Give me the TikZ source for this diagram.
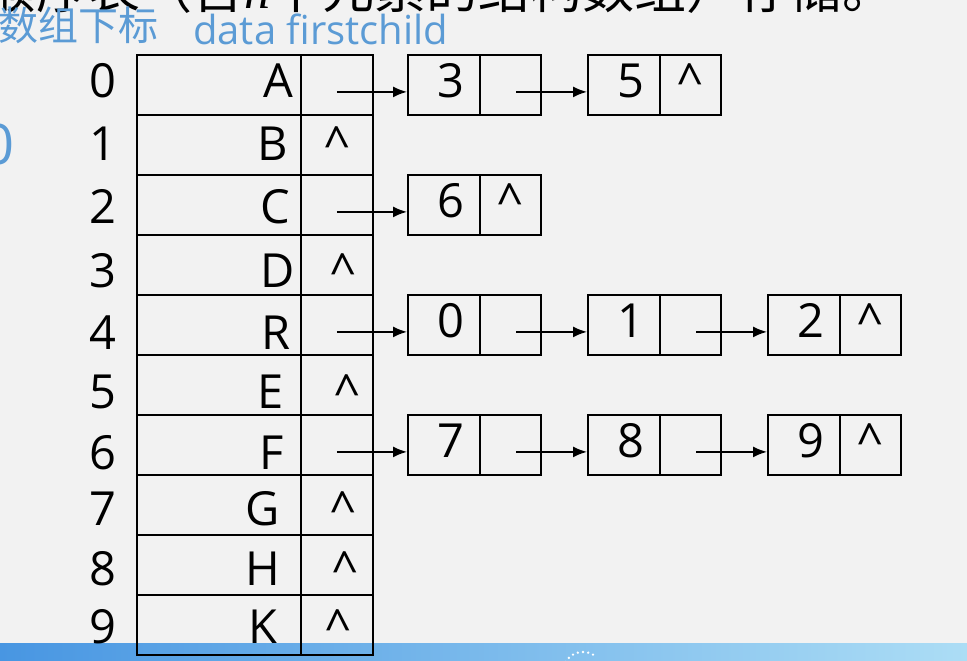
\documentclass[tikz,border=0pt]{standalone}
\usepackage{fontspec}
\setmainfont{Open Sans}
\newfontfamily\cjk{Noto Sans CJK SC}
\newfontfamily\timesit{Liberation Serif}
\usetikzlibrary{arrows.meta}
\definecolor{slidebg}{RGB}{242,242,242}
\definecolor{headblue}{RGB}{91,155,213}
\definecolor{barleft}{RGB}{72,150,226}
\definecolor{barright}{RGB}{172,221,245}

\begin{document}
\begin{tikzpicture}[x=1pt,y=-1pt,
  cell/.style={draw,line width=1.8pt,minimum height=60pt,inner sep=0pt,anchor=north west},
  txt/.style={inner sep=0pt,font=\fontsize{47}{50}\selectfont},
  head/.style={inner sep=0pt,anchor=base west,text=headblue},
  link/.style={line width=1.7pt,-{Latex[length=14pt,width=11pt]}}]
\useasboundingbox (0,0) rectangle (967,661);
\fill[slidebg] (0,0) rectangle (967,661);
\clip (0,0) rectangle (967,661);
% caption line, cut by the top edge
\node[inner sep=0pt,anchor=base west,font=\cjk\fontsize{52}{56}\selectfont] (caption) at (-16,9)
  {顺序表（含{\timesit\itshape n}个元素的结构数组）存储。};
% column heads
\node[head,font=\cjk\fontsize{40}{42}\selectfont] (idxhead) at (-2,41) {数组下标};
\node[head,font=\fontsize{40}{42}\selectfont] (fieldhead) at (193,45) {data firstchild};
\node[head,anchor=base east,font=\fontsize{56}{60}\selectfont] (edge0) at (15,164) {0};
% status bar
\shade[left color=barleft,right color=barright] (0,643) rectangle (967,661);
\foreach \a in {-60,-75,...,-150}
  \fill[white] (583,672) ++(\a:20) circle (1.3pt);

% head table
\foreach \i/\t/\rx/\by in {0/A/293/98,1/B/288/160,2/C/290/223,3/D/295/287,4/R/291/349,
                           5/E/284/408,6/F/284/469,7/G/280/525,8/H/280/585,9/K/278/643}{
  \node[cell,minimum width=164pt] (d\i) at (136,54+60*\i) {};
  \node[cell,minimum width=72pt] (p\i) at (300,54+60*\i) {};
  \node[txt,anchor=base] (n\i) at (103,\by) {\i};
  \node[txt,anchor=base east] (t\i) at (\rx,\by) {\t};
}
\foreach \i/\cx in {1/337,3/343,5/347,7/343,8/345,9/338}
  \node[txt,anchor=base] (nil\i) at (t\i.base -| \cx,0) {\textasciicircum};

% child lists
\foreach \v/\x/\y in {3/407/54,5/587/54,6/407/174,0/407/294,1/587/294,2/767/294,
                      7/407/414,8/587/414,9/767/414}{
  \node[cell,minimum width=72pt] (cv\v) at (\x,\y) {};
  \node[cell,minimum width=61pt] (cp\v) at (\x+72,\y) {};
  \node[txt,anchor=base] (val\v) at ([xshift=7pt,yshift=-13pt]cv\v.center) {\v};
}
\foreach \v in {5,6,2,9}
  \node[txt,anchor=base] (end\v) at ([yshift=-13pt]cp\v.center) {\textasciicircum};

\foreach \a/\b in {0/3,2/6,4/0,6/7}
  \draw[link] ([yshift=-7pt]p\a.center) -- ([yshift=-7pt]cv\b.west);
\foreach \a/\b in {3/5,0/1,1/2,7/8,8/9}
  \draw[link] ([xshift=6pt,yshift=-7pt]cp\a.center) -- ([yshift=-7pt]cv\b.west);
\end{tikzpicture}
\end{document}
